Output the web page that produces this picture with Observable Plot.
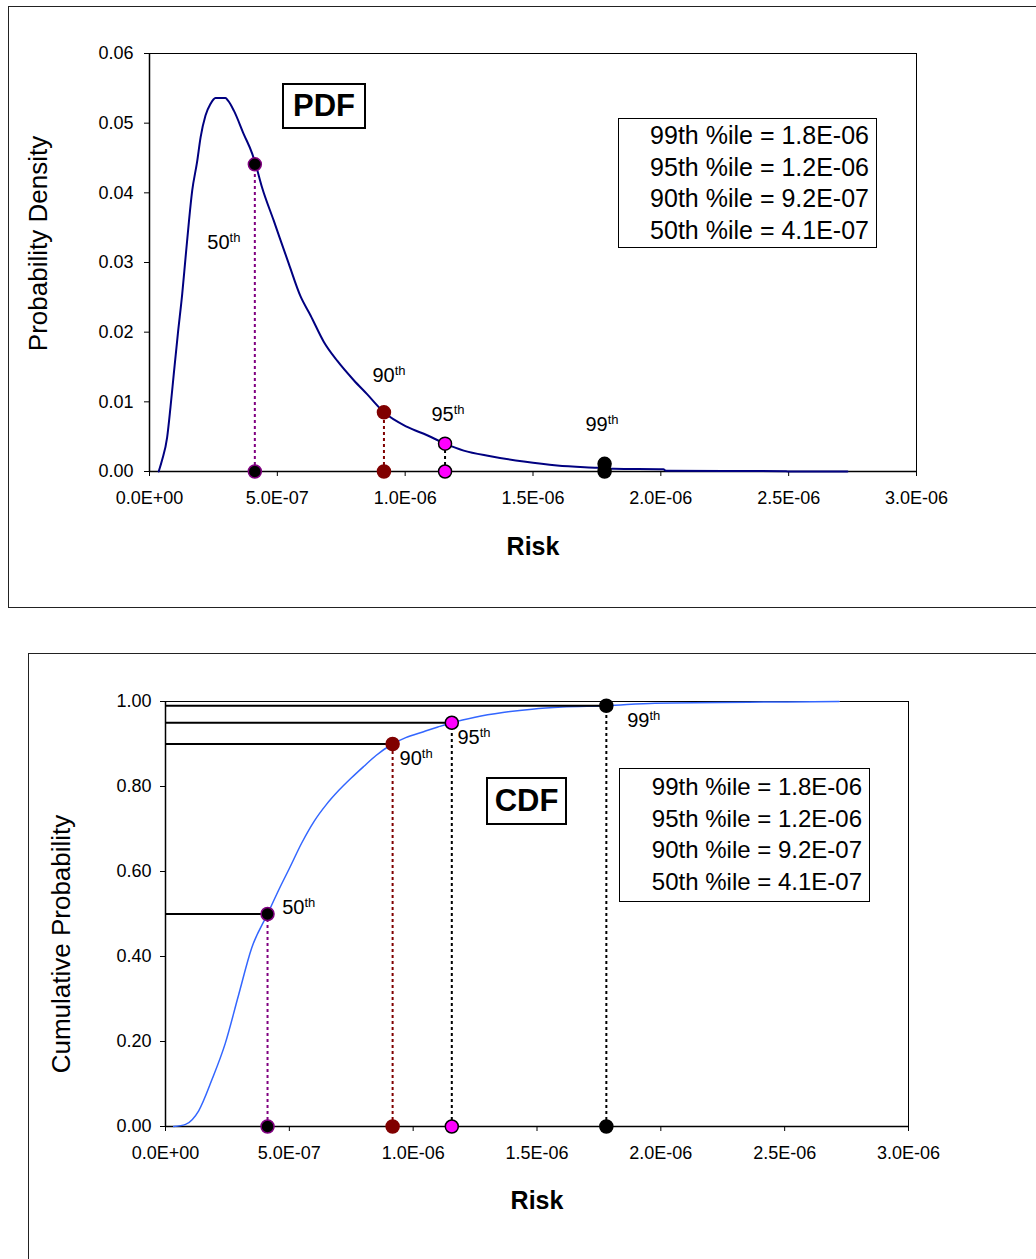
<!DOCTYPE html>
<html>
<head>
<meta charset="utf-8">
<script src="https://cdn.jsdelivr.net/npm/d3@7"></script>
<script src="https://cdn.jsdelivr.net/npm/@observablehq/plot@0.6"></script>
<style>
  body { margin: 0; background: #fff; font-family: "Liberation Sans", Arial, sans-serif; }
  #wrap { position: relative; width: 1036px; height: 1259px; overflow: hidden; background: #fff; }
  .panel { position: absolute; left: 0; }
  .outer { position: absolute; border: 1.5px solid #222; box-sizing: border-box; }
  .tag { position: absolute; border: 2px solid #000; box-sizing: border-box; background: #fff;
         font-weight: bold; font-size: 31px; display: flex; align-items: center; justify-content: center; }
  .legend { position: absolute; border: 1.5px solid #000; box-sizing: border-box; background: #fff;
            text-align: right; line-height: 31.7px; }
</style>
</head>
<body>
<div id="wrap">
  <div class="outer" style="left:8px;top:6px;width:1040px;height:602px"></div>
  <div class="outer" style="left:28px;top:653px;width:1040px;height:700px"></div>
  <div id="pdf" class="panel" style="top:0"></div>
  <div id="cdf" class="panel" style="top:640px"></div>
</div>
<script>
// ---------- data ----------
const pdfRisk = [3.6e-8, 4.9e-8, 6.9e-8, 8.2e-8, 9.5e-8, 1.11e-7, 1.28e-7, 1.41e-7, 1.54e-7, 1.67e-7,
  1.86e-7, 2.0e-7, 2.19e-7, 2.39e-7, 2.5e-7, 2.58e-7, 2.97e-7, 3.08e-7, 3.3e-7, 3.69e-7, 4.02e-7, 4.15e-7,
  4.4e-7, 4.86e-7, 5.45e-7, 5.9e-7, 6.3e-7, 6.82e-7, 7.34e-7, 7.99e-7, 8.51e-7, 9.17e-7,
  1.008e-6, 1.086e-6, 1.156e-6, 1.229e-6, 1.334e-6, 1.464e-6, 1.594e-6, 1.751e-6, 1.816e-6, 2.01e-6,
  2.02e-6, 2.48e-6, 2.5e-6, 2.73e-6];
const pdfDensity = [0, 0.0016, 0.0049, 0.0092, 0.014, 0.0198, 0.0255, 0.0307, 0.0358, 0.0403,
  0.0444, 0.048, 0.0511, 0.0528, 0.0534, 0.0536, 0.0536, 0.0532, 0.0518, 0.0484, 0.0456, 0.0441,
  0.0408, 0.036, 0.0298, 0.0252, 0.0224, 0.0186, 0.0159, 0.0131, 0.0111, 0.0085,
  0.0064, 0.0052, 0.004, 0.003, 0.0022, 0.00143, 0.00086, 0.00053, 0.0004, 0.00033,
  0.0001, 0.00005, 0, 0];

const cdfRisk = [3.3e-8, 8.1e-8, 1.34e-7, 1.88e-7, 2.41e-7, 2.94e-7, 3.48e-7, 4.12e-7, 4.6e-7, 5.0e-7,
  5.5e-7, 6.0e-7, 6.5e-7, 7.0e-7, 7.5e-7, 8.0e-7, 8.5e-7, 9.17e-7, 9.7e-7, 1.042e-6,
  1.1e-6, 1.156e-6, 1.25e-6, 1.362e-6, 1.48e-6, 1.602e-6, 1.78e-6, 1.976e-6, 2.51e-6, 2.72e-6];
const cdfProb = [0, 0.005, 0.037, 0.111, 0.195, 0.307, 0.42, 0.5, 0.56, 0.607,
  0.667, 0.718, 0.758, 0.791, 0.82, 0.847, 0.873, 0.9, 0.915, 0.929,
  0.94, 0.95, 0.963, 0.974, 0.982, 0.987, 0.99, 0.996, 0.999, 1.0];

const pctNames = ["50th", "90th", "95th", "99th"];
const pctRisk = [4.12e-7, 9.17e-7, 1.156e-6, 1.78e-6];
const pctDensity = [0.0441, 0.0085, 0.0040, 0.0011];
const pctCum = [0.50, 0.90, 0.95, 0.99];

// label anchor positions (data units)
const pdfLabelRisk = [2.26e-7, 8.72e-7, 1.103e-6, 1.705e-6];
const pdfLabelDensity = [0.0328, 0.0137, 0.0081, 0.0067];
const cdfLabelRisk = [4.71e-7, 9.45e-7, 1.179e-6, 1.864e-6];
const cdfLabelProb = [0.514, 0.8645, 0.9162, 0.954];

const legendLines = ["99th %ile = 1.8E-06", "95th %ile = 1.2E-06", "90th %ile = 9.2E-07", "50th %ile = 4.1E-07"];
const xTicks = [0, 5e-7, 1e-6, 1.5e-6, 2e-6, 2.5e-6, 3e-6];
const yTicksPdf = [0, 0.01, 0.02, 0.03, 0.04, 0.05, 0.06];
const yTicksCdf = [0, 0.2, 0.4, 0.6, 0.8, 1.0];

// ---------- styles ----------
const dotFill = {"50th": "black", "90th": "#800000", "95th": "#ff00ff", "99th": "black"};
const dotStroke = {"50th": "#800080", "90th": "#800000", "95th": "black", "99th": "black"};
const dropColor = {"50th": "#800080", "90th": "#800000", "95th": "black", "99th": "black"};
const FONT = '"Liberation Sans", Arial, sans-serif';

const sci = d => {
  const [m, e] = d.toExponential(1).split("e");
  const n = +e;
  return `${m}E${n < 0 ? "-" : "+"}${String(Math.abs(n)).padStart(2, "0")}`;
};

const pdfLine = pdfRisk.map((r, i) => ({r, d: pdfDensity[i]}));
const cdfLine = cdfRisk.map((r, i) => ({r, p: cdfProb[i]}));
const pct = pctNames.map((name, i) => ({
  name, r: pctRisk[i], d: pctDensity[i], c: pctCum[i],
  plx: pdfLabelRisk[i], ply: pdfLabelDensity[i], clx: cdfLabelRisk[i], cly: cdfLabelProb[i]
}));

function superscript(svg) {
  svg.querySelectorAll("text").forEach(t => {
    const m = /^(\d+)(th)$/.exec(t.textContent);
    if (!m) return;
    t.textContent = "";
    const ns = "http://www.w3.org/2000/svg";
    const a = document.createElementNS(ns, "tspan"); a.textContent = m[1];
    const b = document.createElementNS(ns, "tspan"); b.textContent = m[2];
    b.setAttribute("font-size", "13"); b.setAttribute("dy", "-7");
    t.appendChild(a); t.appendChild(b);
  });
}

const titleOpts = {fontSize: 26, fill: "black", textAnchor: "middle", lineAnchor: "middle", rotate: -90};
const riskOpts = {fontSize: 25, fontWeight: "bold", fill: "black", textAnchor: "middle", lineAnchor: "middle"};

// ---------- PDF ----------
const pdf = Plot.plot({
  width: 1036, height: 620,
  marginLeft: 149, marginRight: 120, marginTop: 53, marginBottom: 149,
  style: {fontFamily: FONT, fontSize: "18px", color: "black", background: "transparent"},
  color: {type: "identity"},
  x: {domain: [0, 3e-6], ticks: xTicks, tickFormat: sci, tickSize: 5, tickPadding: 15, label: null},
  y: {domain: [0, 0.06], ticks: yTicksPdf, tickFormat: d3.format(".2f"), tickSize: 5, tickPadding: 11, label: null},
  marks: [
    Plot.frame({stroke: "black", strokeWidth: 1}),
    Plot.ruleY([0], {stroke: "black", strokeWidth: 1.5}),
    Plot.ruleX([0], {stroke: "black", strokeWidth: 1.5}),
    Plot.line(pdfLine, {x: "r", y: "d", stroke: "#000080", strokeWidth: 2, curve: "monotone-x"}),
    Plot.ruleX(pct, {x: "r", y1: 0, y2: "d", stroke: d => dropColor[d.name], strokeWidth: 2, strokeDasharray: "3,3"}),
    Plot.dot(pct, {x: "r", y: 0, r: 6.5, fill: d => dotFill[d.name], stroke: d => dotStroke[d.name], strokeWidth: 1.5}),
    Plot.dot(pct, {x: "r", y: "d", r: 6.5, fill: d => dotFill[d.name], stroke: d => dotStroke[d.name], strokeWidth: 1.5}),
    Plot.text(pct, {x: "plx", y: "ply", text: "name", textAnchor: "start", fontSize: 20, fill: "black"}),
    Plot.text(["Risk"], {...riskOpts, frameAnchor: "bottom", dy: 75}),
    Plot.text(["Probability Density"], {...titleOpts, frameAnchor: "left", dx: -111, dy: -19})
  ]
});
superscript(pdf);
document.getElementById("pdf").appendChild(pdf);

// ---------- CDF ----------
const cdf = Plot.plot({
  width: 1036, height: 619,
  marginLeft: 165, marginRight: 128, marginTop: 61, marginBottom: 133,
  style: {fontFamily: FONT, fontSize: "18px", color: "black", background: "transparent"},
  color: {type: "identity"},
  x: {domain: [0, 3e-6], ticks: xTicks, tickFormat: sci, tickSize: 5, tickPadding: 15, label: null},
  y: {domain: [0, 1], ticks: yTicksCdf, tickFormat: d3.format(".2f"), tickSize: 5, tickPadding: 9, label: null},
  marks: [
    Plot.frame({stroke: "black", strokeWidth: 1}),
    Plot.ruleY([0], {stroke: "black", strokeWidth: 1.5}),
    Plot.ruleX([0], {stroke: "black", strokeWidth: 1.5}),
    Plot.line(cdfLine, {x: "r", y: "p", stroke: "#3366ff", strokeWidth: 1.5, curve: "monotone-x"}),
    Plot.ruleY(pct, {y: "c", x1: 0, x2: "r", stroke: "black", strokeWidth: 2}),
    Plot.ruleX(pct, {x: "r", y1: 0, y2: "c", stroke: d => dropColor[d.name], strokeWidth: 2, strokeDasharray: "3,3"}),
    Plot.dot(pct, {x: "r", y: 0, r: 6.5, fill: d => dotFill[d.name], stroke: d => dotStroke[d.name], strokeWidth: 1.5}),
    Plot.dot(pct, {x: "r", y: "c", r: 6.5, fill: d => dotFill[d.name], stroke: d => dotStroke[d.name], strokeWidth: 1.5}),
    Plot.text(pct, {x: "clx", y: "cly", text: "name", textAnchor: "start", fontSize: 20, fill: "black"}),
    Plot.text(["Risk"], {...riskOpts, frameAnchor: "bottom", dy: 74.5}),
    Plot.text(["Cumulative Probability"], {...titleOpts, frameAnchor: "left", dx: -104, dy: 30})
  ]
});
superscript(cdf);
document.getElementById("cdf").appendChild(cdf);

// ---------- boxes: tags and legends ----------
const wrap = document.getElementById("wrap");
function addTag(text, left, top, w, h) {
  const el = document.createElement("div");
  el.className = "tag";
  Object.assign(el.style, {left: left + "px", top: top + "px", width: w + "px", height: h + "px"});
  el.textContent = text;
  wrap.appendChild(el);
}
function addLegend(left, top, w, h, fs, padTop, padRight) {
  const el = document.createElement("div");
  el.className = "legend";
  Object.assign(el.style, {left: left + "px", top: top + "px", width: w + "px", height: h + "px",
    fontSize: fs + "px", paddingTop: padTop + "px", paddingRight: padRight + "px"});
  legendLines.forEach(line => {
    const row = document.createElement("div");
    row.textContent = line;
    el.appendChild(row);
  });
  wrap.appendChild(el);
}
addTag("PDF", 282, 83, 84, 46);
addTag("CDF", 486, 777, 81, 48);
addLegend(618, 118, 259, 130, 25, 1, 7);
addLegend(619, 768, 251, 134, 24, 2, 7);
</script>
</body>
</html>
